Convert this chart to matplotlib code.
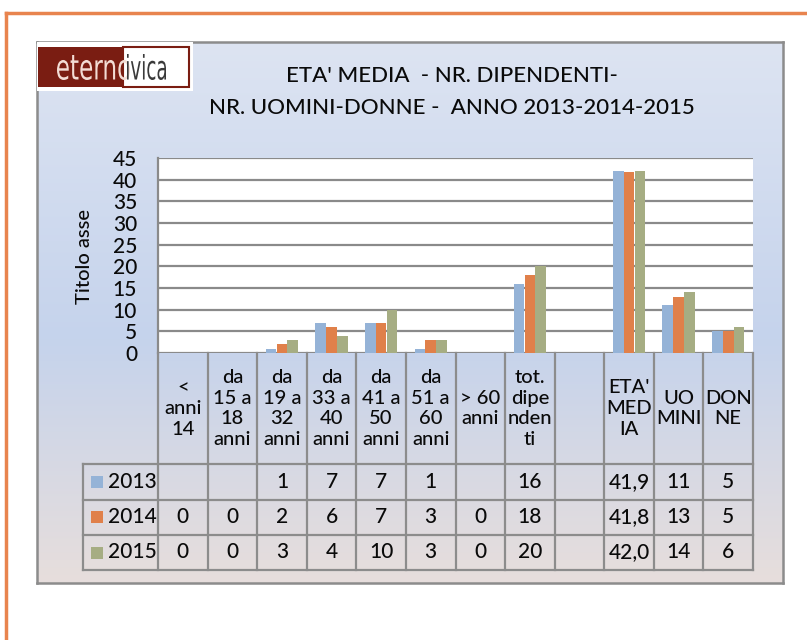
import numpy as np
import matplotlib.pyplot as plt
from matplotlib.patches import Rectangle, PathPatch
from matplotlib.lines import Line2D
from matplotlib.textpath import TextPath
from matplotlib.font_manager import FontProperties
from matplotlib.colors import LinearSegmentedColormap
from matplotlib.transforms import blended_transform_factory, Affine2D

plt.rcParams['font.family'] = ['Lato', 'DejaVu Sans']
plt.rcParams['font.weight'] = 'medium'

categories = ["<\nanni\n14", "da\n15 a\n18\nanni", "da\n19 a\n32\nanni",
              "da\n33 a\n40\nanni", "da\n41 a\n50\nanni", "da\n51 a\n60\nanni",
              "> 60\nanni", "tot.\ndipe\nnden\nti", "",
              "ETA'\nMED\nIA", "UO\nMINI", "DON\nNE"]
years = ["2013", "2014", "2015"]
v2013 = [np.nan, np.nan, 1, 7, 7, 1, np.nan, 16, np.nan, 41.9, 11, 5]
v2014 = [0, 0, 2, 6, 7, 3, 0, 18, np.nan, 41.8, 13, 5]
v2015 = [0, 0, 3, 4, 10, 3, 0, 20, np.nan, 42.0, 14, 6]
series = [v2013, v2014, v2015]
colors = ['#95B3D7', '#E0804A', '#A6AD83']
yticks = [0, 5, 10, 15, 20, 25, 30, 35, 40, 45]

W, H = 807, 640
fig = plt.figure(figsize=(W / 100, H / 100), dpi=100)
txt_c = '#0A0A0A'


def fx(px):
    return px / W


def fy(py):
    return 1 - py / H


def logo_word(word, x0, x1, y0, y1, color):
    # text squeezed into a pixel box (narrow logo lettering)
    path = TextPath((0, 0), word, size=40, prop=FontProperties(family='DejaVu Sans'))
    ext = path.get_extents()
    tr = (Affine2D().translate(-ext.x0, -ext.y0)
          .scale((x1 - x0) / ext.width, (y1 - y0) / ext.height)
          .translate(x0, H - y1))
    fig.add_artist(PathPatch(path, transform=tr, facecolor=color,
                             edgecolor='none'))


# outer orange frame (only top and left visible)
orange = '#E8844E'
fig.add_artist(Line2D([fx(6), fx(6)], [fy(13), 0], color=orange, lw=2.5))
fig.add_artist(Line2D([fx(6), 1], [fy(13), fy(13)], color=orange, lw=2.5))

# chart area gradient
bg = fig.add_axes([fx(37), fy(583), fx(783) - fx(37), (583 - 42) / H])
cmap = LinearSegmentedColormap.from_list(
    'bg', [(0, '#DDE4F2'), (0.55, '#C5D3EC'), (1, '#E7DEDC')])
grad = np.linspace(0, 1, 256).reshape(-1, 1)
bg.imshow(grad, aspect='auto', cmap=cmap, extent=[0, 1, 0, 1], origin='upper')
bg.set_xticks([])
bg.set_yticks([])
for s in bg.spines.values():
    s.set_color('#8C8C8C')
    s.set_linewidth(1.8)

# logo
fig.add_artist(Rectangle((fx(37), fy(91)), fx(193) - fx(37), (91 - 42) / H,
                         facecolor='white', edgecolor='none'))
fig.add_artist(Rectangle((fx(123), fy(87)), fx(189) - fx(123), 40 / H,
                         facecolor='white', edgecolor='#7A1D12', lw=1.5))
fig.add_artist(Rectangle((fx(38), fy(87)), fx(123) - fx(38), 40 / H,
                         facecolor='#7A1D12', edgecolor='none'))
logo_word("eterno", 57, 130, 55, 80, '#F3DCD4')
logo_word("ivica", 127, 166, 54, 80, '#3A3A3A')

# title
fig.text(fx(452), fy(76), "ETA' MEDIA  - NR. DIPENDENTI-", ha='center',
         va='center', fontsize=16, color=txt_c)
fig.text(fx(452), fy(108), "NR. UOMINI-DONNE -  ANNO 2013-2014-2015",
         ha='center', va='center', fontsize=16, color=txt_c)
fig.text(fx(85), fy(257), "Titolo asse", rotation=90, ha='center',
         va='center', fontsize=14.5, color=txt_c)

# plot area
ax = fig.add_axes([fx(158), fy(353), fx(753) - fx(158), (353 - 158) / H])
ax.set_facecolor('white')
x = np.arange(len(categories))
bw = 0.215
for k, vals in enumerate(series):
    ax.bar(x + (k - 1) * 0.218, np.nan_to_num(vals), width=bw,
           color=colors[k], linewidth=0, zorder=3)
ax.set_xlim(-0.5, len(categories) - 0.5)
ax.set_ylim(0, 45)
ax.set_yticks(yticks)
ax.set_xticks([])
ax.tick_params(axis='y', length=0, pad=15, labelsize=15, labelcolor=txt_c)
ax.yaxis.grid(True, color='#8A8A8A', lw=1.6, zorder=0)
ax.set_axisbelow(True)
for name, s in ax.spines.items():
    s.set_visible(name == 'left')
ax.spines['left'].set_color('#8A8A8A')
ax.spines['left'].set_linewidth(1.6)

# data table drawn under the axis
trans = blended_transform_factory(ax.transData, fig.transFigure)
col_w = (753 - 158) / len(categories)
x_leg = -0.5 - (158 - 83) / col_w
x_end = len(categories) - 0.5
grid_c = '#8C8C8C'
header_bottom = 464
row_edges = [464, 499.5, 535, 570]

for i in range(len(categories) + 1):
    fig.add_artist(Line2D([i - 0.5, i - 0.5], [fy(353), fy(570)],
                          transform=trans, color=grid_c, lw=1.6))
fig.add_artist(Line2D([x_leg, x_leg], [fy(header_bottom), fy(570)],
                      transform=trans, color=grid_c, lw=1.6))
for ry in row_edges:
    fig.add_artist(Line2D([x_leg, x_end], [fy(ry), fy(ry)],
                          transform=trans, color=grid_c, lw=1.6))

for i, lab in enumerate(categories):
    fig.text(i, fy((353 + header_bottom) / 2), lab, transform=trans,
             ha='center', va='center', fontsize=14.5, linespacing=1.27,
             color=txt_c)

for r, (yr, vals) in enumerate(zip(years, series)):
    yc = (row_edges[r] + row_edges[r + 1]) / 2
    fig.add_artist(Rectangle((fx(91), fy(yc + 6)), 12 / W, 12 / H,
                             facecolor=colors[r], edgecolor='none'))
    fig.text(fx(108), fy(yc), yr, ha='left', va='center', fontsize=15,
             color=txt_c)
    for i, v in enumerate(vals):
        if np.isnan(v):
            continue
        if i == 9:
            s = "{:.1f}".format(v).replace('.', ',')
        else:
            s = "{:d}".format(int(v))
        fig.text(i, fy(yc), s, transform=trans, ha='center', va='center',
                 fontsize=15, color=txt_c)

fig.savefig('out.png', dpi=100)
